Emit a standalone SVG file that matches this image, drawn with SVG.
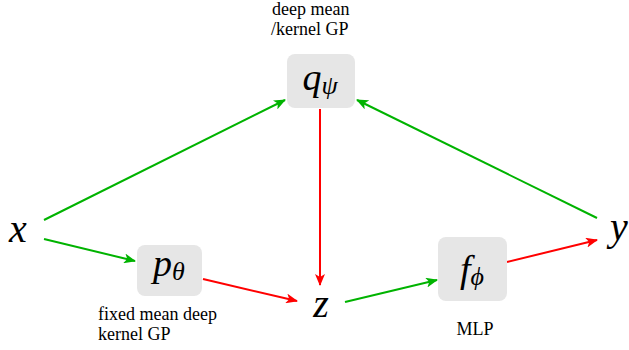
<svg xmlns="http://www.w3.org/2000/svg" width="629" height="350" viewBox="0 0 629 350">
<style>
.box{fill:#e6e6e6;stroke:none}
.g{stroke:#00b300;stroke-width:2;fill:none}
.r{stroke:#ff0000;stroke-width:2;fill:none}
</style>
<defs>
<marker id="ag" viewBox="0 0 12 10" refX="11" refY="5" markerWidth="12" markerHeight="10" markerUnits="userSpaceOnUse" orient="auto"><path d="M0,0 L12,5 L0,10 L3,5 Z" fill="#00b300"/></marker>
<marker id="ar" viewBox="0 0 12 10" refX="11" refY="5" markerWidth="12" markerHeight="10" markerUnits="userSpaceOnUse" orient="auto"><path d="M0,0 L12,5 L0,10 L3,5 Z" fill="#ff0000"/></marker>
</defs>
<g id="connectors">
<line class="g" x1="44" y1="220" x2="285" y2="100" marker-end="url(#ag)"/>
<line class="g" x1="44" y1="239" x2="135" y2="261" marker-end="url(#ag)"/>
<line class="r" x1="203" y1="279" x2="297" y2="301" marker-end="url(#ar)"/>
<line class="r" x1="320" y1="109" x2="320" y2="285" marker-end="url(#ar)"/>
<line class="g" x1="345" y1="302" x2="437" y2="280" marker-end="url(#ag)"/>
<line class="r" x1="507" y1="262" x2="597" y2="240" marker-end="url(#ar)"/>
<line class="g" x1="597" y1="218" x2="357" y2="100" marker-end="url(#ag)"/>
</g>
<g font-family="Liberation Serif" font-style="italic" fill="#000">
<g id="x"><text x="18" y="242" font-size="40" text-anchor="middle">x</text></g>
<g id="y"><text x="619" y="240" font-size="40" text-anchor="middle">y</text></g>
<g id="z"><text x="321" y="317" font-size="40" text-anchor="middle">z</text></g>
</g>
<g id="q">
<rect class="box" x="287" y="54" width="68" height="54" rx="8"/>
<text x="320" y="90" font-family="Liberation Serif" font-style="italic" font-size="38" text-anchor="middle">q<tspan font-size="26" dy="4">ψ</tspan></text>
<text x="272" y="15" font-family="Liberation Serif" font-size="18">deep mean</text>
<text x="271" y="35" font-family="Liberation Serif" font-size="18">/kernel GP</text>
</g>
<g id="p">
<rect class="box" x="137" y="245" width="65" height="51" rx="8"/>
<text x="169" y="276" font-family="Liberation Serif" font-style="italic" font-size="38" text-anchor="middle">p<tspan font-size="26" dy="4">θ</tspan></text>
<text x="98" y="320" font-family="Liberation Serif" font-size="18">fixed mean deep</text>
<text x="98" y="340" font-family="Liberation Serif" font-size="18">kernel GP</text>
</g>
<g id="f">
<rect class="box" x="438" y="237" width="69" height="64" rx="8"/>
<text x="472" y="282" font-family="Liberation Serif" font-style="italic" font-size="38" text-anchor="middle">f<tspan font-size="26" dy="3">ϕ</tspan></text>
<text x="475" y="335" font-family="Liberation Serif" font-size="18" text-anchor="middle">MLP</text>
</g>
</svg>
